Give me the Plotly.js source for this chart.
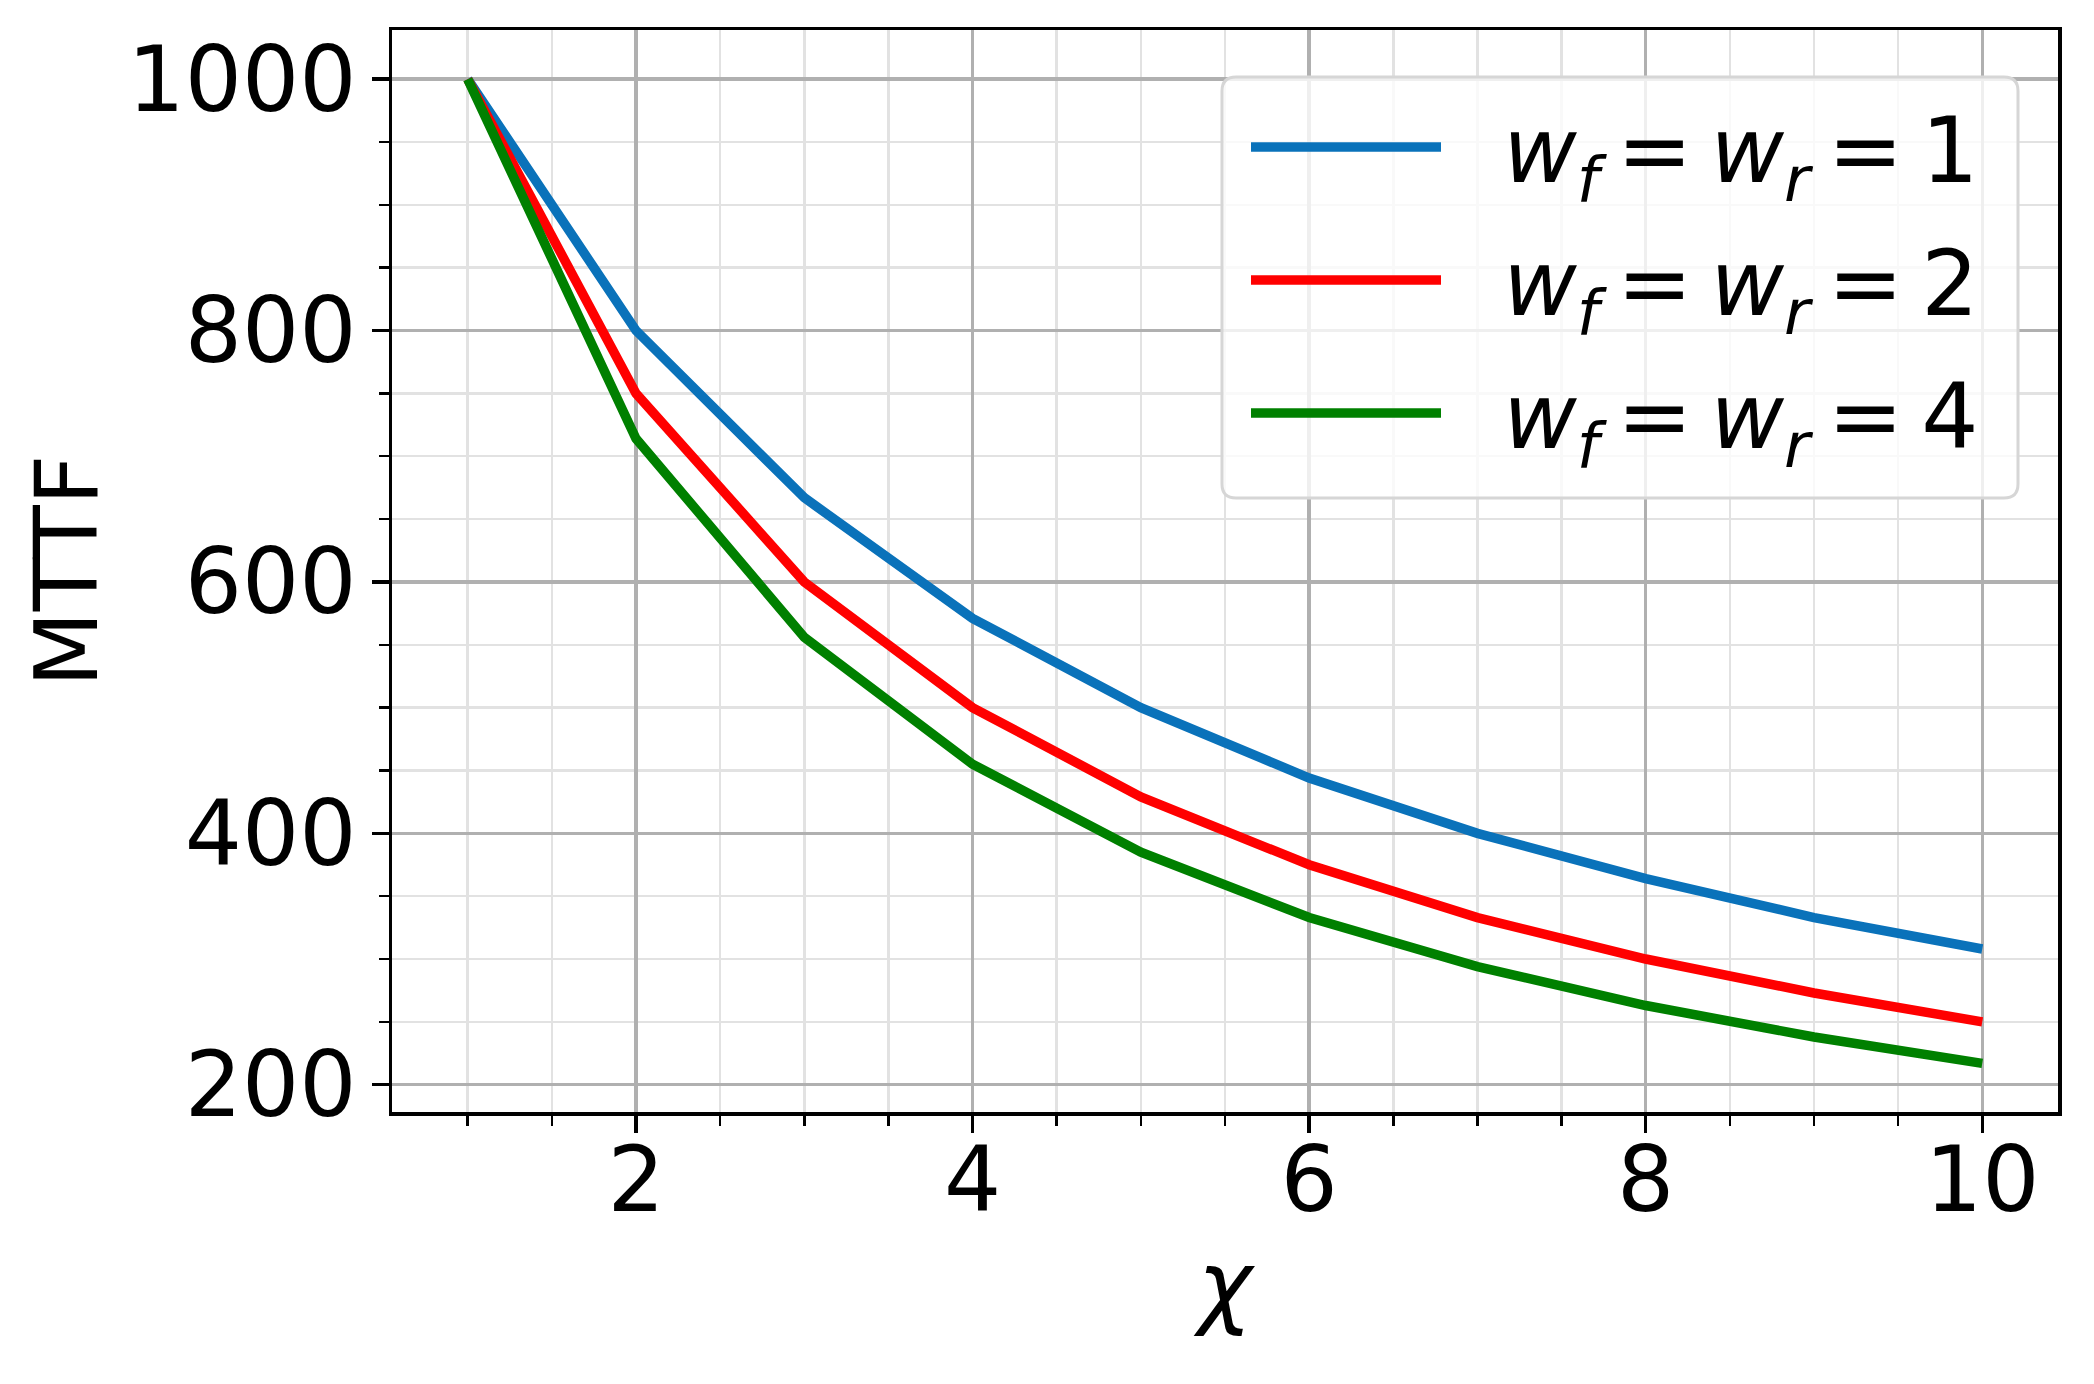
<!DOCTYPE html>
<html>
<head>
<meta charset="utf-8">
<script src="https://cdn.plot.ly/plotly-3.0.1.min.js"></script>
<style>
  html, body { margin: 0; padding: 0; background: #fff; }
  #chart { width: 2094px; height: 1384px; }
</style>
</head>
<body>
<div id="chart"></div>
<script>
  "use strict";

  // values
  const chi = [1, 2, 3, 4, 5, 6, 7, 8, 9, 10];
  const mttfW1 = [1000, 800, 667, 571, 500, 444, 400, 364, 333, 308];
  const mttfW2 = [1000, 750, 600, 500, 429, 375, 333, 300, 273, 250];
  const mttfW4 = [1000, 714, 556, 455, 385, 333, 294, 263, 238, 217];

  const weights = ["1", "2", "4"];
  const seriesColors = ["#0a72ba", "#ff0000", "#008000"];

  const FONT = "DejaVu Sans, sans-serif";
  const W = 2094, H = 1384;
  const M = { l: 392, r: 36, t: 30, b: 272 };
  const plotW = W - M.l - M.r;
  const plotH = H - M.t - M.b;

  // legend label: w_f = w_r = n
  const TS = "\u2009";
  const legendName = (n) =>
    "\u00a0\u00a0<i>w</i><sub><i>f</i></sub>" + TS + "=" + TS +
    "<i>w</i><sub><i>r</i></sub>" + TS + "=" + TS + n;

  const traces = [mttfW1, mttfW2, mttfW4].map((ys, i) => ({
    type: "scatter",
    mode: "lines",
    x: chi,
    y: ys,
    name: legendName(weights[i]),
    legendgroup: "g" + i,
    line: { color: seriesColors[i], width: 9.5 },
  }));

  // legend frame (rounded box, in paper units)
  function roundedBox(x0, y0, x1, y1, rpx) {
    const rx = rpx / plotW, ry = rpx / plotH;
    return `M${x0 + rx},${y0} L${x1 - rx},${y0} Q${x1},${y0} ${x1},${y0 + ry} ` +
      `L${x1},${y1 - ry} Q${x1},${y1} ${x1 - rx},${y1} L${x0 + rx},${y1} ` +
      `Q${x0},${y1} ${x0},${y1 - ry} L${x0},${y0 + ry} Q${x0},${y0} ${x0 + rx},${y0} Z`;
  }
  const boxL = (1222 - M.l) / plotW;
  const boxR = (2018 - M.l) / plotW;
  const boxT = (M.t + plotH - 77) / plotH;
  const boxB = (M.t + plotH - 498) / plotH;

  const axisCommon = {
    showline: true,
    mirror: true,
    linecolor: "#000",
    linewidth: 3.5,
    ticks: "outside",
    ticklen: 17,
    tickwidth: 3.5,
    tickcolor: "#000",
    showgrid: true,
    gridcolor: "#b0b0b0",
    gridwidth: 3.5,
    zeroline: false,
    tickfont: { family: FONT, size: 90, color: "#000" },
  };

  const minorCommon = {
    tick0: 0, ticks: "outside", ticklen: 10, tickwidth: 2.5,
    tickcolor: "#000", showgrid: true, gridcolor: "#e2e2e2", gridwidth: 2.5,
  };

  const layout = {
    width: W,
    height: H,
    paper_bgcolor: "#fff",
    plot_bgcolor: "#fff",
    margin: M,
    showlegend: true,
    font: { family: FONT, color: "#000" },
    xaxis: Object.assign({}, axisCommon, {
      range: [0.55, 10.45],
      tick0: 0,
      dtick: 2,
      ticklabelstandoff: -30,
      minor: Object.assign({ dtick: 0.5 }, minorCommon),
      title: { text: "<i>χ</i>", font: { family: FONT, size: 92, color: "#000" }, standoff: 23 },
    }),
    yaxis: Object.assign({}, axisCommon, {
      range: [178.3, 1039.1],
      tick0: 0,
      dtick: 200,
      ticklabelstandoff: -3,
      minor: Object.assign({ dtick: 50 }, minorCommon),
      title: { text: "MTTF\u00a0\u00a0", font: { family: FONT, size: 88, color: "#000" }, standoff: 1 },
    }),
    shapes: [{
      type: "path",
      xref: "paper",
      yref: "paper",
      path: roundedBox(boxL, boxB, boxR, boxT, 14),
      fillcolor: "rgba(255,255,255,0.8)",
      line: { color: "#d6d6d6", width: 3 },
      layer: "above",
    }],
    legend: {
      x: (1246 - M.l) / plotW,
      xanchor: "left",
      y: (M.t + plotH - 82) / plotH,
      yanchor: "top",
      bgcolor: "rgba(0,0,0,0)",
      borderwidth: 0,
      traceorder: "grouped",
      tracegroupgap: 13,
      itemwidth: 190,
      font: { family: FONT, size: 90, color: "#000" },
    },
  };

  Plotly.newPlot("chart", traces, layout, { displayModeBar: false, staticPlot: true });
</script>
</body>
</html>
